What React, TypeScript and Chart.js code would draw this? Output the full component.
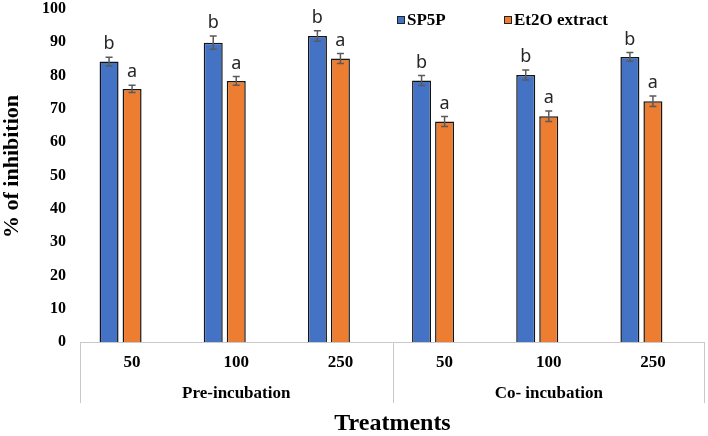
import React, { useEffect, useRef } from "react";
import { Chart, registerables } from "chart.js";

Chart.register(...registerables);

const doseLabels = ["50", "100", "250", "50", "100", "250"];
const groupLabels = ["Pre-incubation", "Co- incubation"];
const seriesNames = ["SP5P", "Et2O extract"];
const sp5p = [84.2, 89.9, 91.9, 78.5, 80.2, 85.6];
const et2o = [76.0, 78.4, 85.1, 66.2, 67.8, 72.3];
const sp5pErr = [1.3, 2.0, 1.6, 1.5, 1.5, 1.3];
const et2oErr = [1.1, 1.3, 1.5, 1.5, 1.6, 1.6];
const sp5pLetters = ["b", "b", "b", "b", "b", "b"];
const et2oLetters = ["a", "a", "a", "a", "a", "a"];
const spacer = [null, null, null, null, null, null];
const yTicks = { min: 0, max: 100, step: 10 };

const SERIF = "'Liberation Serif', 'Times New Roman', serif";
const SANS = "'Noto Sans', 'Open Sans', sans-serif";
const BLUE = "#4472C4";
const ORANGE = "#ED7D31";

const overlayPlugin = {
  id: "overlay",
  beforeDatasetsDraw(chart: any) {
    const { ctx, chartArea } = chart;
    const x = chart.scales.x;
    const bottom = chartArea.bottom;
    const mid = (x.getPixelForValue(2) + x.getPixelForValue(3)) / 2;
    ctx.save();
    ctx.strokeStyle = "#c9c9c9";
    ctx.lineWidth = 1;
    ctx.beginPath();
    ctx.moveTo(chartArea.left, bottom + 0.5);
    ctx.lineTo(chartArea.right, bottom + 0.5);
    [chartArea.left + 0.5, Math.round(mid) + 0.5, chartArea.right - 0.5].forEach((px) => {
      ctx.moveTo(px, bottom);
      ctx.lineTo(px, bottom + 61);
    });
    ctx.stroke();
    ctx.restore();
  },
  afterDatasetsDraw(chart: any) {
    const { ctx } = chart;
    const y = chart.scales.y;
    const vals = [sp5p, et2o];
    const errs = [sp5pErr, et2oErr];
    const letters = [sp5pLetters, et2oLetters];
    ctx.save();
    for (let d = 0; d < 2; d++) {
      const meta = chart.getDatasetMeta(d);
      meta.data.forEach((bar: any, i: number) => {
        const v = vals[d][i];
        const e = errs[d][i];
        const yt = y.getPixelForValue(v + e);
        const yb = y.getPixelForValue(v - e);
        const bx = bar.x;
        ctx.strokeStyle = "#5a5a5a";
        ctx.lineWidth = 1.5;
        ctx.beginPath();
        ctx.moveTo(bx, yt);
        ctx.lineTo(bx, yb);
        ctx.moveTo(bx - 3.5, yt);
        ctx.lineTo(bx + 3.5, yt);
        ctx.moveTo(bx - 3.5, yb);
        ctx.lineTo(bx + 3.5, yb);
        ctx.stroke();
        ctx.fillStyle = "#262626";
        ctx.font = `18px ${SANS}`;
        ctx.textAlign = "center";
        ctx.textBaseline = "alphabetic";
        ctx.fillText(letters[d][i], bx, yt - 8);
      });
    }
    ctx.restore();
  },
  afterDraw(chart: any) {
    const { ctx, chartArea } = chart;
    const x = chart.scales.x;
    ctx.save();
    // group labels
    ctx.fillStyle = "#000";
    ctx.font = `bold 17px ${SERIF}`;
    ctx.textAlign = "center";
    ctx.textBaseline = "middle";
    ctx.fillText(groupLabels[0], x.getPixelForValue(1), chartArea.bottom + 52);
    ctx.fillText(groupLabels[1], x.getPixelForValue(4), chartArea.bottom + 52);
    // y title
    ctx.save();
    ctx.translate(12, (chartArea.top + chartArea.bottom) / 2 - 9);
    ctx.rotate(-Math.PI / 2);
    ctx.font = `bold 22px ${SERIF}`;
    ctx.fillText("% of inhibition", 0, 0);
    ctx.restore();
    // legend
    const items = [
      { name: seriesNames[0], color: BLUE, x: 397 },
      { name: seriesNames[1], color: ORANGE, x: 504 },
    ];
    items.forEach((it) => {
      ctx.fillStyle = it.color;
      ctx.fillRect(it.x, 16, 8, 8);
      ctx.strokeStyle = "#222";
      ctx.lineWidth = 1;
      ctx.strokeRect(it.x + 0.5, 16.5, 7, 7);
      ctx.fillStyle = "#000";
      ctx.font = `bold 17px ${SERIF}`;
      ctx.textAlign = "left";
      ctx.textBaseline = "alphabetic";
      ctx.fillText(it.name, it.x + 10, 25);
    });
    ctx.restore();
  },
};

export default function App() {
  const ref = useRef<HTMLCanvasElement | null>(null);
  useEffect(() => {
    document.body.style.margin = "0";
    if (!ref.current) return;
    const barStyle = { borderColor: "#151515", borderWidth: 1.5 };
    const chart = new Chart(ref.current, {
      type: "bar",
      data: {
        labels: doseLabels,
        datasets: [
          { label: seriesNames[0], data: sp5p, backgroundColor: BLUE, ...barStyle },
          { label: seriesNames[1], data: et2o, backgroundColor: ORANGE, ...barStyle },
          { label: "", data: spacer as any, backgroundColor: "transparent" },
        ],
      },
      options: {
        responsive: false,
        animation: false,
        layout: { padding: { left: 0, right: 3, top: 0, bottom: 0 } },
        datasets: { bar: { categoryPercentage: 0.663, barPercentage: 0.826 } },
        plugins: { legend: { display: false }, tooltip: { enabled: false } },
        scales: {
          x: {
            grid: { display: false, drawTicks: false },
            border: { display: false },
            ticks: { font: { family: SERIF, size: 17, weight: "bold" }, color: "#000", padding: 10 },
            title: {
              display: true,
              text: "Treatments",
              color: "#000",
              font: { family: SERIF, size: 24, weight: "bold", lineHeight: 1 },
              padding: 0,
            },
            afterFit: (s: any) => {
              s.height = 94;
            },
          },
          y: {
            min: yTicks.min,
            max: yTicks.max,
            grid: { display: false, drawTicks: false },
            border: { display: false },
            ticks: {
              stepSize: yTicks.step,
              font: { family: SERIF, size: 16, weight: "bold" },
              color: "#000",
              padding: 14,
            },
            afterFit: (s: any) => {
              s.width = 80;
              s.paddingTop = 9;
              s.paddingBottom = 0;
            },
          },
        },
      } as any,
      plugins: [overlayPlugin],
    });
    return () => chart.destroy();
  }, []);
  return (
    <div style={{ width: 708, height: 436 }}>
      <canvas ref={ref} width={708} height={436} />
    </div>
  );
}
